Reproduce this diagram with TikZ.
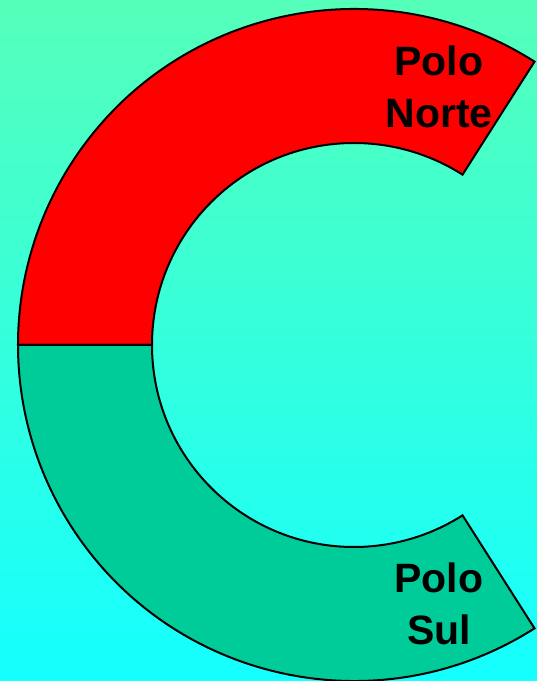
\documentclass[tikz,border=0pt]{standalone}
\usepackage{fontspec}
\setmainfont{Liberation Sans}
\definecolor{bgtop}{RGB}{85,255,185}
\definecolor{bgbot}{RGB}{20,255,255}
\definecolor{polenorth}{RGB}{255,0,0}
\definecolor{polesouth}{RGB}{0,204,153}
\begin{document}
\begin{tikzpicture}[x=1pt,y=1pt,
  polepart/.style={draw=black,line width=2pt,line join=miter},
  polelabel/.style={font=\bfseries\fontsize{41}{52}\selectfont,align=center,text=black}]
\useasboundingbox (0,0) rectangle (537,681);
\shade[top color=bgtop,bottom color=bgbot] (0,0) rectangle (537,681);
\coordinate (c) at (354,336);
% north half
\fill[polenorth] ([shift={(57.5:336)}]c) arc[start angle=57.5,end angle=180,radius=336]
  -- ([shift={(180:202)}]c) arc[start angle=180,end angle=57.5,radius=202] -- cycle;
\draw[polepart] ([shift={(57.5:336)}]c) arc[start angle=57.5,end angle=180,radius=336]
  -- ([shift={(180:202)}]c) arc[start angle=180,end angle=57.5,radius=202] -- cycle;
% south half
\fill[polesouth] ([shift={(-57.5:336)}]c) arc[start angle=-57.5,end angle=-180,radius=336]
  -- ([shift={(-180:202)}]c) arc[start angle=-180,end angle=-57.5,radius=202] -- cycle;
\draw[polepart] ([shift={(-57.5:336)}]c) arc[start angle=-57.5,end angle=-180,radius=336]
  -- ([shift={(-180:202)}]c) arc[start angle=-180,end angle=-57.5,radius=202] -- cycle;
\node[polelabel] (n) at (439,594) {Polo\\Norte};
\node[polelabel] (s) at (439,77) {Polo\\Sul};
\end{tikzpicture}
\end{document}
